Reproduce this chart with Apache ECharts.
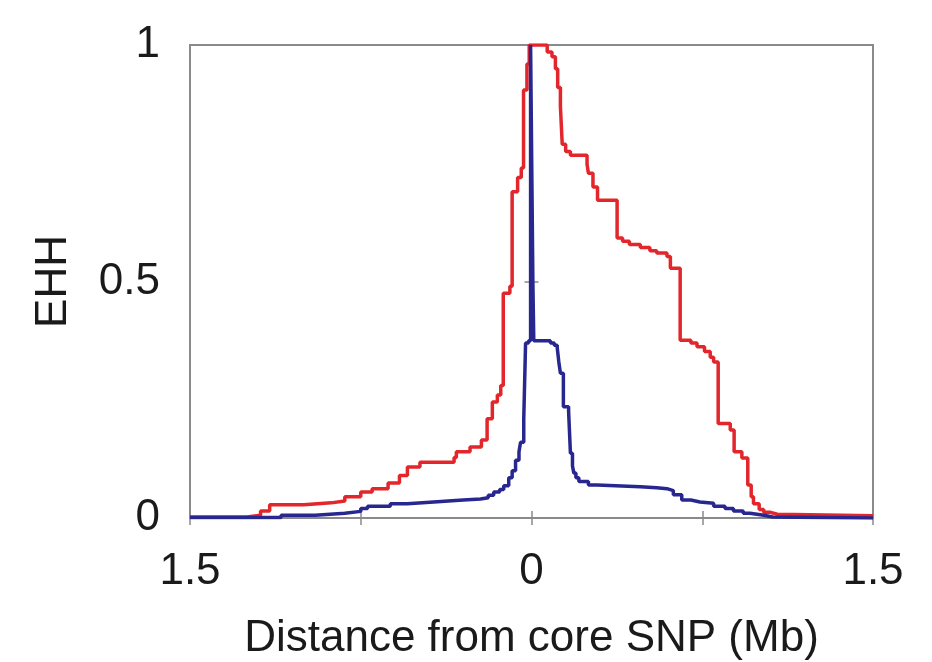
<!DOCTYPE html>
<html lang="en" style="height: 100%">

<head>
  <meta charset="UTF-8" />
  <title>EHH</title>
  <script src="https://cdn.jsdelivr.net/npm/echarts@6/dist/echarts.min.js"></script>
</head>

<body style="height: 100%; margin: 0; background: #fff">
  <div id="main" style="width: 932px; height: 662px"></div>
  <script type="text/javascript">
    // x positions (Mb) where each new EHH level starts, and the level itself
    var redX = [-1.5, -1.25, -1.19, -1.15, -1.0, -0.88, -0.82, -0.75, -0.70, -0.63, -0.58, -0.545, -0.49, -0.34, -0.33, -0.27, -0.22, -0.195, -0.172, -0.15, -0.135, -0.124, -0.095, -0.085, -0.061, -0.045, -0.035, -0.02, -0.01,
      0.069, 0.09, 0.105, 0.115, 0.127, 0.135, 0.15, 0.171, 0.244, 0.25, 0.27, 0.29, 0.376, 0.40, 0.43, 0.478, 0.52, 0.55, 0.595, 0.61, 0.653, 0.70, 0.727, 0.76, 0.785, 0.80, 0.82, 0.873, 0.89, 0.924, 0.95, 0.965, 0.975, 1.0, 1.02, 1.05, 1.08, 1.5];
    var redY = [0.002, 0.006, 0.015, 0.028, 0.032, 0.036, 0.045, 0.055, 0.062, 0.074, 0.09, 0.108, 0.118, 0.128, 0.14, 0.15, 0.165, 0.21, 0.245, 0.26, 0.28, 0.475, 0.49, 0.69, 0.72, 0.74, 0.905, 0.96, 1.0,
      0.985, 0.975, 0.95, 0.91, 0.87, 0.79, 0.775, 0.767, 0.748, 0.729, 0.70, 0.672, 0.592, 0.585, 0.578, 0.572, 0.565, 0.56, 0.553, 0.528, 0.376, 0.37, 0.362, 0.352, 0.34, 0.33, 0.2, 0.186, 0.14, 0.127, 0.07, 0.045, 0.03, 0.018, 0.012, 0.008, 0.005, 0.004];

    var blueX = [-1.5, -1.1, -0.95, -0.82, -0.75, -0.72, -0.62, -0.545, -0.43, -0.30, -0.224, -0.19, -0.166, -0.14, -0.122, -0.10, -0.085, -0.07, -0.055, -0.048, -0.034, -0.026, -0.013, -0.004,
      0.002, 0.006, 0.01, 0.083, 0.10, 0.113, 0.12, 0.127, 0.14, 0.163, 0.171, 0.18, 0.186, 0.195, 0.208, 0.25, 0.288, 0.478, 0.55, 0.595, 0.623, 0.66, 0.70, 0.74, 0.80, 0.85, 0.887, 0.93, 0.96, 1.02, 1.06, 1.5];
    var blueY = [0.001, 0.006, 0.01, 0.014, 0.02, 0.025, 0.03, 0.034, 0.038, 0.04, 0.043, 0.048, 0.055, 0.06, 0.068, 0.085, 0.1, 0.122, 0.14, 0.16, 0.21, 0.37, 0.375, 1.0,
      0.7, 0.5, 0.375, 0.37, 0.365, 0.36, 0.33, 0.306, 0.235, 0.225, 0.137, 0.11, 0.095, 0.085, 0.077, 0.07, 0.066, 0.064, 0.062, 0.058, 0.049, 0.038, 0.034, 0.031, 0.025, 0.02, 0.015, 0.01, 0.006, 0.002, 0.0, 0.0];

    var xTickLabels = { '-1.5': '1.5', '0': '0', '1.5': '1.5' };
    var yTickLabels = { '0': '0', '0.5': '0.5', '1': '1' };

    function pairs(xs, ys) {
      var out = [];
      for (var i = 0; i < xs.length; i++) {
        out.push([xs[i], ys[i]]);
      }
      return out;
    }

    var myChart = echarts.init(document.getElementById('main'));

    var font = 'Liberation Sans, Arial, Helvetica, sans-serif';
    var frameColor = '#8a8a8a';
    var textColor = '#1a1a1a';

    var option = {
      backgroundColor: '#fff',
      animation: false,
      grid: {
        left: 190, right: 59, top: 45, bottom: 144,
        outerBoundsMode: 'none', containLabel: false,
        show: true, borderColor: frameColor, borderWidth: 2, backgroundColor: 'transparent'
      },
      xAxis: [
        {
          type: 'value', min: -1.5, max: 1.5, interval: 0.75,
          position: 'bottom',
          axisLine: { show: false },
          axisTick: { show: true, inside: true, length: 7, lineStyle: { color: frameColor, width: 1.5 } },
          splitLine: { show: false },
          axisLabel: {
            margin: 32, fontSize: 44, color: textColor, fontFamily: font,
            formatter: function (v) { return xTickLabels[String(v)] || ''; }
          },
          name: 'Distance from core SNP (Mb)',
          nameLocation: 'middle', nameGap: 99,
          nameTextStyle: { fontSize: 44, color: textColor, fontFamily: font }
        },
        {
          type: 'value', min: -1.5, max: 1.5, interval: 0.75,
          position: 'top',
          axisLine: { show: false },
          axisTick: { show: true, inside: true, length: 7, lineStyle: { color: frameColor, width: 1.5 } },
          splitLine: { show: false },
          axisLabel: { show: false }
        }
      ],
      yAxis: [
        {
          type: 'value', min: 0, max: 1, interval: 0.5,
          position: 'left',
          axisLine: { show: false },
          axisTick: { show: true, inside: true, length: 7, lineStyle: { color: frameColor, width: 1.5 } },
          splitLine: { show: false },
          axisLabel: {
            margin: 30, fontSize: 44, color: textColor, fontFamily: font,
            formatter: function (v) { return yTickLabels[String(v)] || ''; }
          },
          name: 'EHH',
          nameLocation: 'middle', nameGap: 114, nameRotate: 90,
          nameTextStyle: { fontSize: 44, color: textColor, fontFamily: font }
        },
        {
          type: 'value', min: 0, max: 1, interval: 0.5,
          position: 'right',
          axisLine: { show: false },
          axisTick: { show: true, inside: true, length: 7, lineStyle: { color: frameColor, width: 1.5 } },
          splitLine: { show: false },
          axisLabel: { show: false }
        }
      ],
      series: [
        {
          name: 'red',
          type: 'line',
          step: 'end',
          showSymbol: false,
          data: pairs(redX, redY),
          lineStyle: { color: '#e2262b', width: 3.5 }
        },
        {
          name: 'blue',
          type: 'line',
          step: 'end',
          showSymbol: false,
          data: pairs(blueX, blueY),
          lineStyle: { color: '#27278f', width: 3.5 }
        }
      ]
    };

    if (option && typeof option === 'object') {
      myChart.setOption(option);
    }

    window.addEventListener('resize', myChart.resize);
  </script>
</body>

</html>
